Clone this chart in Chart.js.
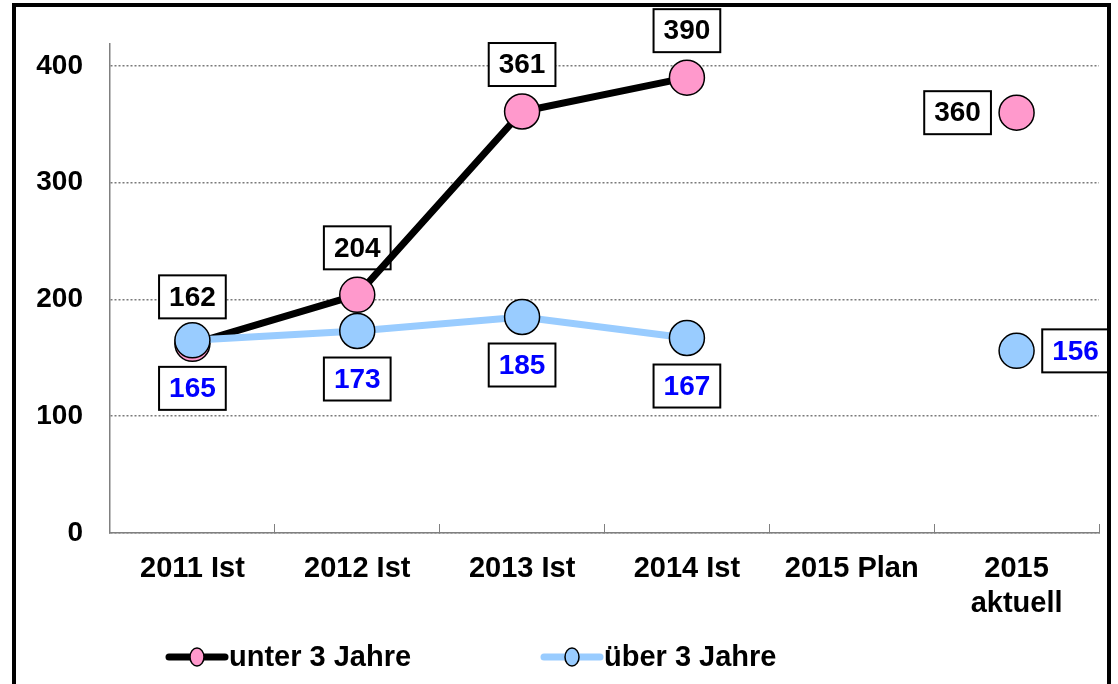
<!DOCTYPE html>
<html>
<head>
<meta charset="utf-8">
<script src="https://cdn.jsdelivr.net/npm/chart.js@4"></script>
<style>
  html, body { margin: 0; padding: 0; background: #fff; overflow: hidden; }
  #wrap { position: relative; width: 1118px; height: 684px; }
  #frame {
    position: absolute; left: 12px; top: 3px; width: 1099px; height: 720px;
    border: 4px solid #000; box-sizing: border-box; pointer-events: none;
  }
</style>
</head>
<body>
<div id="wrap">
  <canvas id="chart" width="1118" height="684"></canvas>
  <div id="frame"></div>
</div>
<script>
// ====== DATA ======
const categories = ['2011 Ist', '2012 Ist', '2013 Ist', '2014 Ist', '2015 Plan', ['2015', 'aktuell']];
const seriesNames = ['unter 3 Jahre', 'über 3 Jahre'];
const unter3 = [162, 204, 361, 390, null, 360];
const ueber3 = [165, 173, 185, 167, null, 156];
const yTicks = [0, 100, 200, 300, 400];

const FONT = "'Liberation Sans', Arial, sans-serif";
const PINK = '#FF99CC';
const LIGHTBLUE = '#99CCFF';

// boxed value labels, above/below the point, sideways for the last category
const valueLabels = {
    id: 'valueLabels',
    beforeDatasetsDraw(chart) {
        const ctx = chart.ctx;
        const lastIdx = categories.length - 1;
        ctx.save();
        ctx.font = 'bold 28px ' + FONT;
        ctx.textAlign = 'center';
        ctx.textBaseline = 'middle';
        chart.data.datasets.forEach((ds, di) => {
            const meta = chart.getDatasetMeta(di);
            const above = di === 0;
            meta.data.forEach((pt, i) => {
                const v = ds.data[i];
                if (v === null || v === undefined) return;
                let cx = pt.x, cy = pt.y;
                if (i === lastIdx) {
                    cx += above ? -59 : 59;
                } else {
                    cy += above ? -47 : 48;
                }
                const txt = String(v);
                const w = ctx.measureText(txt).width + 20;
                const h = 43;
                ctx.fillStyle = '#fff';
                ctx.fillRect(cx - w / 2, cy - h / 2, w, h);
                ctx.lineWidth = 2;
                ctx.strokeStyle = '#000';
                ctx.strokeRect(cx - w / 2, cy - h / 2, w, h);
                ctx.fillStyle = ds.labelColor;
                ctx.fillText(txt, cx, cy + 1);
            });
        });
        ctx.restore();
    }
};

// legend: line + marker + text, drawn at the bottom
const lineLegend = {
    id: 'lineLegend',
    afterDraw(chart) {
        const ctx = chart.ctx;
        const starts = [169, 544];
        const y = 657;
        ctx.save();
        chart.data.datasets.forEach((ds, di) => {
            const x0 = starts[di];
            ctx.lineCap = 'round';
            ctx.lineWidth = 7;
            ctx.strokeStyle = ds.borderColor;
            ctx.beginPath();
            ctx.moveTo(x0, y);
            ctx.lineTo(x0 + 56, y);
            ctx.stroke();
            ctx.beginPath();
            ctx.ellipse(x0 + 28, y, 7, 9, 0, 0, Math.PI * 2);
            ctx.fillStyle = ds.pointBackgroundColor;
            ctx.fill();
            ctx.lineWidth = 1.5;
            ctx.strokeStyle = '#000';
            ctx.stroke();
            ctx.fillStyle = '#000';
            ctx.font = 'bold 29px ' + FONT;
            ctx.textAlign = 'left';
            ctx.textBaseline = 'middle';
            ctx.fillText(ds.label, x0 + 60, y + 1);
        });
        ctx.restore();
    }
};

const ctx = document.getElementById('chart').getContext('2d');
new Chart(ctx, {
    type: 'line',
    data: {
        labels: categories,
        datasets: [{
            label: seriesNames[0],
            data: unter3,
            borderColor: '#000000',
            borderWidth: 7,
            pointRadius: 17.5,
            pointBackgroundColor: PINK,
            pointBorderColor: '#000',
            pointBorderWidth: 1.5,
            labelColor: '#000000',
            spanGaps: false,
            order: 1
        }, {
            label: seriesNames[1],
            data: ueber3,
            borderColor: LIGHTBLUE,
            borderWidth: 7,
            pointRadius: 17.5,
            pointBackgroundColor: LIGHTBLUE,
            pointBorderColor: '#000',
            pointBorderWidth: 1.5,
            labelColor: '#0000FF',
            spanGaps: false,
            order: 0
        }]
    },
    options: {
        responsive: false,
        animation: false,
        layout: { padding: { top: 43, right: 17, left: 0, bottom: 0 } },
        plugins: {
            legend: { display: false },
            tooltip: { enabled: false }
        },
        scales: {
            x: {
                offset: true,
                grid: { offset: true, drawOnChartArea: false, drawTicks: true, tickLength: -9, color: '#808080' },
                border: { color: '#808080', width: 1.5 },
                ticks: {
                    color: '#000',
                    font: { family: FONT, size: 29, weight: 'bold', lineHeight: 1.22 },
                    padding: 27,
                    maxRotation: 0,
                    autoSkip: false
                },
                afterFit(scale) { scale.height = 151; }
            },
            y: {
                min: 0,
                max: 419,
                afterBuildTicks(scale) {
                    scale.ticks = yTicks.map(v => ({ value: v }));
                },
                grid: { color: '#7a7a7a', lineWidth: 1.5, drawTicks: false },
                border: { color: '#808080', width: 1.5, dash: [2, 2] },
                ticks: {
                    color: '#000',
                    font: { family: FONT, size: 28, weight: 'bold' },
                    padding: 27
                },
                afterFit(scale) { scale.width = 110; }
            }
        }
    },
    plugins: [valueLabels, lineLegend]
});
</script>
</body>
</html>
